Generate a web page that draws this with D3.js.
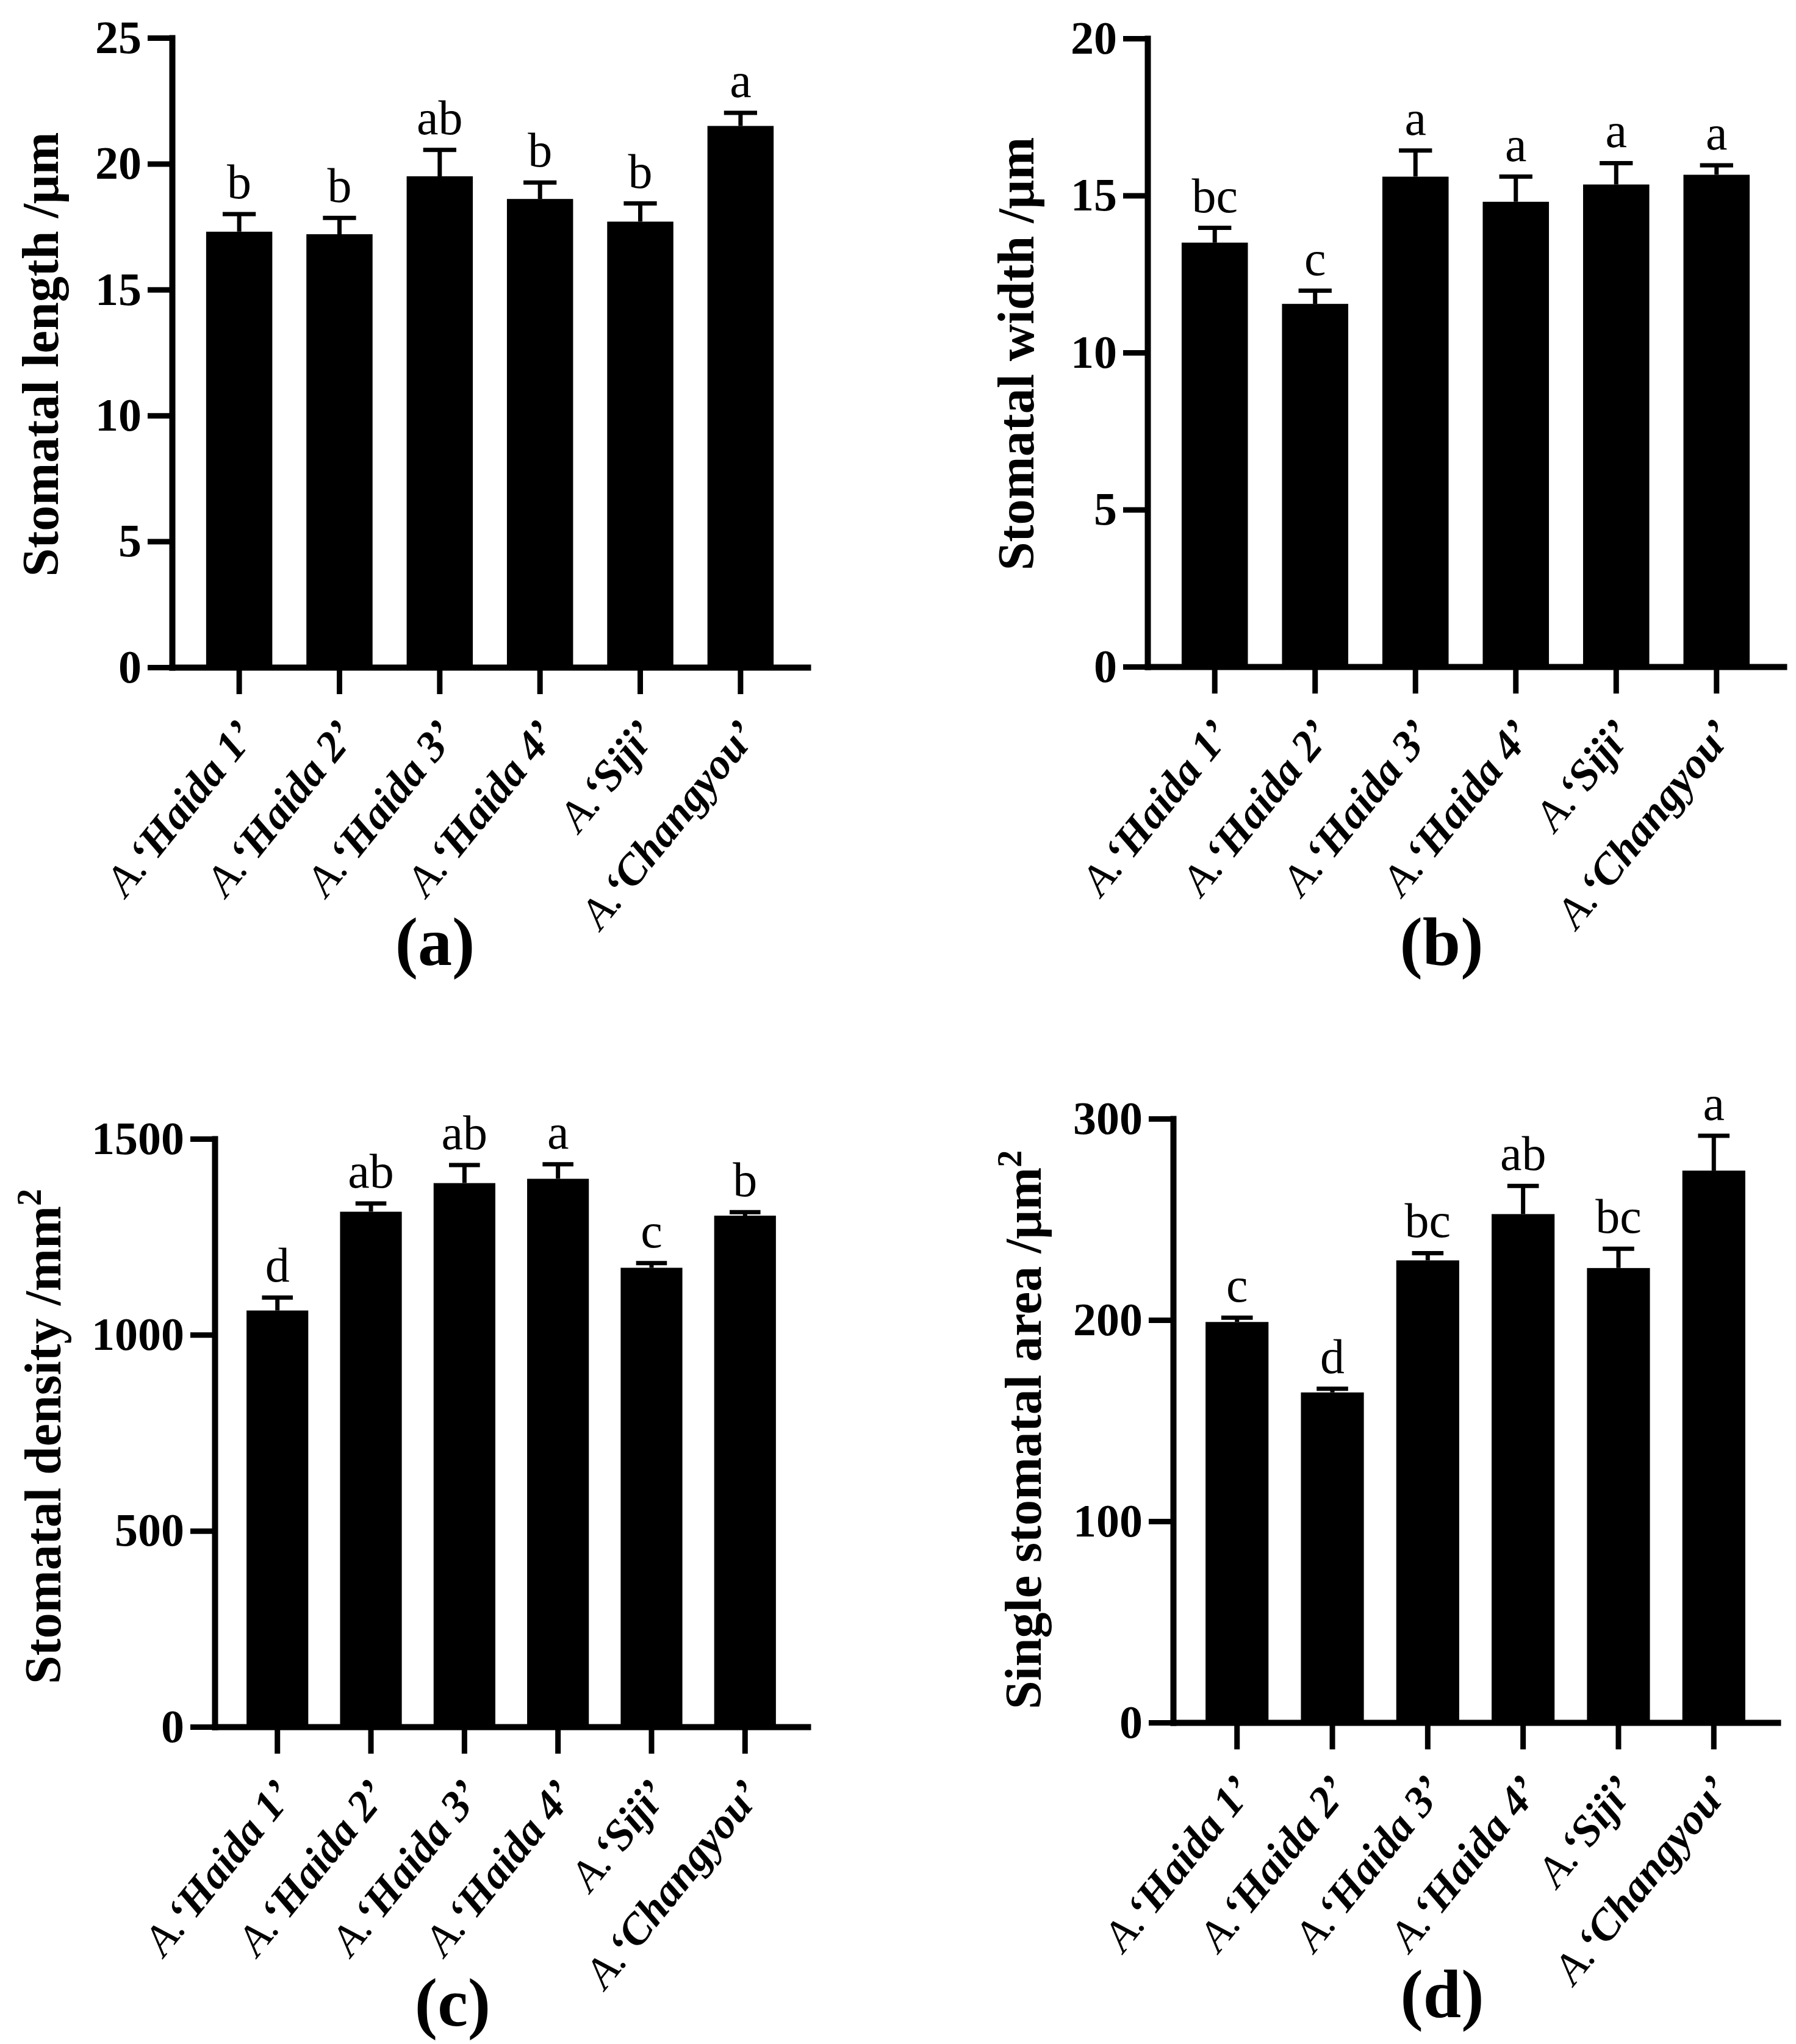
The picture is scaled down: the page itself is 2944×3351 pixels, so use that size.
<!DOCTYPE html>
<html>
<head>
<meta charset="utf-8">
<script src="https://cdn.jsdelivr.net/npm/d3@7"></script>
<style>
  body { margin: 0; background: #fff; }
  svg { display: block; }
</style>
</head>
<body>
<div id="chart"></div>
<script>
// cultivars on the x axis (same order in every panel)
var cultivars = ["Haida 1", "Haida 2", "Haida 3", "Haida 4", "Siji", "Changyou"];

// (a) stomatal length, um
var lengthMean = [17.3, 17.2, 19.5, 18.6, 17.7, 21.5];
var lengthSE = [0.7, 0.65, 1.05, 0.65, 0.72, 0.52];
var lengthSig = ["b", "b", "ab", "b", "b", "a"];
var lengthTicks = [0, 5, 10, 15, 20, 25];

// (b) stomatal width, um
var widthMean = [13.5, 11.55, 15.6, 14.8, 15.35, 15.66];
var widthSE = [0.47, 0.42, 0.83, 0.8, 0.68, 0.3];
var widthSig = ["bc", "c", "a", "a", "a", "a"];
var widthTicks = [0, 5, 10, 15, 20];

// (c) stomatal density, per mm2
var densityMean = [1062, 1314, 1387, 1398, 1171, 1304];
var densitySE = [33, 21, 46, 37, 12, 9];
var densitySig = ["d", "ab", "ab", "a", "c", "b"];
var densityTicks = [0, 500, 1000, 1500];

// (d) single stomatal area, um2
var areaMean = [199, 164, 229.6, 252.6, 225.8, 274.2];
var areaSE = [2.1, 1.8, 3.6, 14, 9.6, 17.3];
var areaSig = ["c", "d", "bc", "ab", "bc", "a"];
var areaTicks = [0, 100, 200, 300];

var font = "'Liberation Serif', 'Times New Roman', serif";

var svg = d3.select("#chart")
    .append("svg")
    .attr("width", 2944)
    .attr("height", 3351)
    .style("background", "#fff");

var panels = [
    { tag: "(a)", mean: lengthMean, se: lengthSE, sig: lengthSig, ticks: lengthTicks,
      title: "Stomatal length /μm", sup: "",
      left: 282, right: 1324, top: 62, bottom: 1094,
      titleX: 95, titleY: 581, tagX: 713, tagY: 1582 },
    { tag: "(b)", mean: widthMean, se: widthSE, sig: widthSig, ticks: widthTicks,
      title: "Stomatal width /μm", sup: "",
      left: 1881, right: 2924, top: 63, bottom: 1093,
      titleX: 1694, titleY: 580, tagX: 2363, tagY: 1582 },
    { tag: "(c)", mean: densityMean, se: densitySE, sig: densitySig, ticks: densityTicks,
      title: "Stomatal density /mm", sup: "2",
      left: 352, right: 1324, top: 1867, bottom: 2831,
      titleX: 99, titleY: 2355, tagX: 742, tagY: 3321 },
    { tag: "(d)", mean: areaMean, se: areaSE, sig: areaSig, ticks: areaTicks,
      title: "Single stomatal area /μm", sup: "2",
      left: 1923, right: 2914, top: 1834, bottom: 2824,
      titleX: 1706, titleY: 2344, tagX: 2364, tagY: 3307 }
];

function drawPanel(p) {
    var g = svg.append("g");

    var x = d3.scaleBand()
        .domain(cultivars)
        .range([p.left, p.right])
        .padding(0.34);

    var y = d3.scaleLinear()
        .domain([0, d3.max(p.ticks)])
        .range([p.bottom, p.top]);

    var rows = cultivars.map(function (c, i) {
        return { name: c, mean: p.mean[i], se: p.se[i], sig: p.sig[i] };
    });

    // bars
    g.selectAll("rect")
        .data(rows)
        .join("rect")
        .attr("x", function (d) { return x(d.name); })
        .attr("y", function (d) { return y(d.mean); })
        .attr("width", x.bandwidth())
        .attr("height", function (d) { return y(0) - y(d.mean); })
        .attr("fill", "#000");

    // error bars (upper half only)
    var cap = x.bandwidth() / 4;
    g.selectAll("path.err")
        .data(rows)
        .join("path")
        .attr("class", "err")
        .attr("d", function (d) {
            var cx = x(d.name) + x.bandwidth() / 2;
            var yt = y(d.mean + d.se);
            return "M" + cx + "," + y(d.mean) + "V" + yt +
                "M" + (cx - cap) + "," + yt + "H" + (cx + cap);
        })
        .attr("fill", "none")
        .attr("stroke", "#000")
        .attr("stroke-width", 7);

    // significance letters
    g.selectAll("text.sig")
        .data(rows)
        .join("text")
        .attr("class", "sig")
        .attr("x", function (d) { return x(d.name) + x.bandwidth() / 2; })
        .attr("y", function (d) { return y(d.mean + d.se) - 26; })
        .attr("text-anchor", "middle")
        .style("font-family", font)
        .style("font-size", "80px")
        .text(function (d) { return d.sig; });

    // Y axis
    var yAxis = g.append("g")
        .attr("transform", "translate(" + p.left + ",0)")
        .call(d3.axisLeft(y).tickValues(p.ticks).tickFormat(d3.format("d"))
            .tickSize(40).tickSizeOuter(0).tickPadding(10));
    yAxis.attr("font-family", null).attr("font-size", null);
    yAxis.select(".domain").attr("stroke-width", 10).attr("stroke-linecap", "square");
    yAxis.selectAll(".tick line").attr("stroke-width", 9);
    yAxis.selectAll(".tick text")
        .style("font-family", font)
        .style("font-size", "76px")
        .style("font-weight", "bold");

    // X axis
    var xAxis = g.append("g")
        .attr("transform", "translate(0," + p.bottom + ")")
        .call(d3.axisBottom(x).tickSize(44).tickSizeOuter(0).tickFormat(""));
    xAxis.select(".domain").attr("stroke-width", 10).attr("stroke-linecap", "square");
    xAxis.selectAll(".tick line").attr("stroke-width", 9);

    var lab = xAxis.selectAll(".tick")
        .append("text")
        .attr("transform", "translate(30,112) rotate(-51)")
        .attr("text-anchor", "end")
        .attr("fill", "#000")
        .style("font-family", font)
        .style("font-size", "71px")
        .style("font-style", "italic");
    lab.append("tspan").text("A.");
    lab.append("tspan")
        .style("font-weight", "bold")
        .text(function (d) { return "\u2018" + d + "\u2019"; });

    // Y axis title
    var t = g.append("text")
        .attr("transform", "translate(" + p.titleX + "," + p.titleY + ") rotate(-90)")
        .attr("text-anchor", "middle")
        .style("font-family", font)
        .style("font-size", "84px")
        .style("font-weight", "bold");
    t.append("tspan").text(p.title);
    if (p.sup) {
        t.append("tspan")
            .attr("dy", -32)
            .style("font-size", "56px")
            .text(p.sup);
    }

    // panel tag
    g.append("text")
        .attr("x", p.tagX)
        .attr("y", p.tagY)
        .attr("text-anchor", "middle")
        .style("font-family", font)
        .style("font-size", "112px")
        .style("font-weight", "bold")
        .text(p.tag);
}

panels.forEach(drawPanel);
</script>
</body>
</html>
